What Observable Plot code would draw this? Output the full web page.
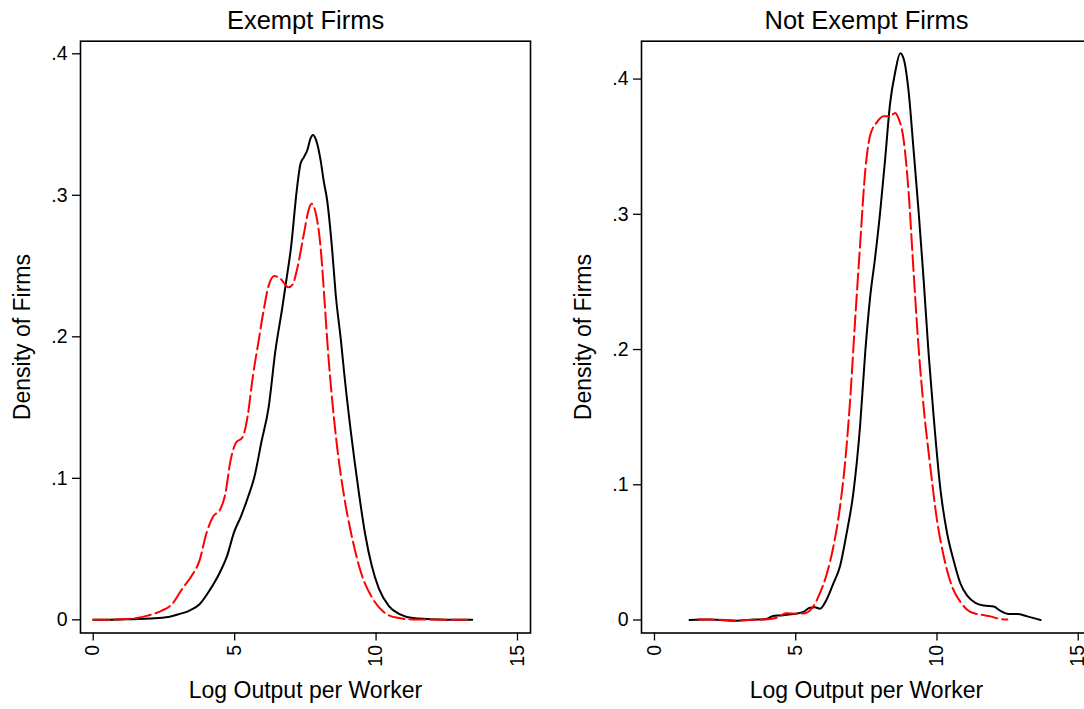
<!DOCTYPE html>
<html>
<head>
<meta charset="utf-8">
<script src="https://cdn.jsdelivr.net/npm/d3@7"></script>
<script src="https://cdn.jsdelivr.net/npm/@observablehq/plot@0.6"></script>
<style>
  html, body { margin: 0; padding: 0; background: #fff; width: 1084px; height: 709px; overflow: hidden; }
  #wrap { position: relative; width: 1084px; height: 709px; overflow: hidden; }
</style>
</head>
<body>
<div id="wrap"></div>
<script>
// ---- Data ----
const panelTitles = ["Exempt Firms", "Not Exempt Firms"];
const xLabel = "Log Output per Worker";
const yLabel = "Density of Firms";
const xTicks = [0, 5, 10, 15];
const yTicks = [0, 0.1, 0.2, 0.3, 0.4];

// Exempt firms: solid black curve [x, density]
const exemptSolid = [[0,0],[1,0.0003],[2,0.001],[2.66,0.002],[3.02,0.004],[3.39,0.0064],[3.76,0.011],[4.12,0.021],[4.49,0.034],[4.73,0.045],[4.98,0.062],[5.22,0.073],[5.46,0.086],[5.71,0.102],[5.95,0.126],[6.2,0.15],[6.44,0.19],[6.68,0.22],[6.85,0.243],[6.98,0.261],[7.21,0.306],[7.33,0.3225],[7.45,0.327],[7.57,0.332],[7.68,0.34],[7.77,0.3427],[7.88,0.339],[8.04,0.3247],[8.15,0.31],[8.27,0.2965],[8.45,0.261],[8.57,0.2306],[8.76,0.197],[8.88,0.173],[9.12,0.131],[9.37,0.093],[9.61,0.061],[9.85,0.038],[10.1,0.022],[10.46,0.0096],[10.83,0.004],[11.3,0.0013],[12.2,0.0003],[13.4,0]];
// Exempt firms: dashed red curve
const exemptDashed = [[0,0],[1,0.0004],[1.44,0.001],[1.93,0.003],[2.41,0.0064],[2.78,0.011],[3.15,0.022],[3.51,0.032],[3.76,0.042],[4.0,0.061],[4.24,0.073],[4.49,0.078],[4.67,0.089],[4.85,0.112],[5.04,0.125],[5.28,0.129],[5.46,0.144],[5.65,0.173],[5.83,0.195],[6.01,0.217],[6.2,0.236],[6.4,0.243],[6.62,0.241],[6.9,0.235],[7.05,0.237],[7.21,0.248],[7.45,0.273],[7.62,0.29],[7.72,0.294],[7.86,0.288],[8.04,0.263],[8.19,0.222],[8.3,0.19],[8.45,0.155],[8.63,0.121],[8.88,0.086],[9.12,0.061],[9.49,0.032],[9.85,0.016],[10.22,0.0064],[10.71,0.0016],[11.3,0.0003],[13.4,0]];

// Not exempt firms: solid black curve
const notExemptSolid = [[1.24,0],[2,0.0003],[2.9,-0.0005],[3.5,0.0003],[3.96,0.0008],[4.2,0.003],[4.44,0.0034],[4.91,0.0044],[5.27,0.006],[5.5,0.009],[5.68,0.0094],[5.86,0.0084],[6.09,0.015],[6.33,0.027],[6.57,0.04],[6.8,0.064],[7.04,0.094],[7.28,0.144],[7.46,0.198],[7.63,0.238],[7.81,0.268],[7.99,0.302],[8.17,0.342],[8.34,0.382],[8.52,0.405],[8.7,0.419],[8.82,0.415],[8.99,0.392],[9.17,0.348],[9.35,0.302],[9.53,0.251],[9.7,0.198],[9.88,0.151],[10.12,0.097],[10.36,0.064],[10.59,0.044],[10.83,0.027],[11.07,0.018],[11.36,0.0127],[11.66,0.0107],[12.01,0.01],[12.25,0.0067],[12.54,0.0044],[12.84,0.0044],[13.2,0.0027],[13.67,0]];
// Not exempt firms: dashed red curve
const notExemptDashed = [[1.54,0.0005],[2.2,0.0002],[3.0,-0.0004],[3.6,0.0002],[4.0,0.0005],[4.32,0.0017],[4.67,0.005],[5.03,0.0047],[5.33,0.005],[5.62,0.01],[5.86,0.02],[6.09,0.0335],[6.33,0.054],[6.57,0.084],[6.75,0.117],[6.92,0.161],[7.1,0.221],[7.28,0.278],[7.46,0.332],[7.63,0.358],[7.87,0.368],[8.1,0.3725],[8.34,0.3725],[8.52,0.375],[8.64,0.371],[8.82,0.355],[8.99,0.318],[9.17,0.258],[9.35,0.201],[9.53,0.157],[9.76,0.114],[10.0,0.074],[10.24,0.047],[10.53,0.025],[10.83,0.0134],[11.18,0.006],[11.54,0.004],[11.89,0.0027],[12.25,0.0007],[12.49,0.0003]];

// ---- Drawing ----
const FONT = "'Liberation Sans', Arial, Helvetica, sans-serif";
const yFmt = d => d === 0 ? "0" : d3.format(".1f")(d).replace(/^0/, "");

function panel(title, solid, dashed, xDomain, yDomain) {
  return Plot.plot({
    width: 560,
    height: 709,
    marginLeft: 80,
    marginRight: 30,
    marginTop: 40.7,
    marginBottom: 76.5,
    style: { fontFamily: FONT, background: "transparent", color: "#000", overflow: "visible" },
    x: { domain: xDomain },
    y: { domain: yDomain },
    marks: [
      Plot.frame({ stroke: "#000", strokeWidth: 1.6 }),
      Plot.axisX({ ticks: xTicks, tickRotate: -90, tickSize: 8, tickPadding: 4, fontSize: 19.5, label: null, strokeWidth: 1.3 }),
      Plot.axisY({ ticks: yTicks, tickFormat: yFmt, tickSize: 8, tickPadding: 5, fontSize: 19.5, label: null, strokeWidth: 1.3 }),
      Plot.line(solid, { x: d => d[0], y: d => d[1], stroke: "#000", strokeWidth: 2, curve: "monotone-x" }),
      Plot.line(dashed, { x: d => d[0], y: d => d[1], stroke: "#ff0000", strokeWidth: 2, strokeDasharray: "16 5", curve: "monotone-x" }),
      Plot.text([title], { frameAnchor: "top", textAnchor: "middle", dy: -12, lineAnchor: "bottom", fontSize: 25.5, fill: "#000" }),
      Plot.text([xLabel], { frameAnchor: "bottom", textAnchor: "middle", dy: 64.5, lineAnchor: "bottom", fontSize: 23, fill: "#000" }),
      Plot.text([yLabel], { frameAnchor: "left", textAnchor: "middle", dx: -51, rotate: -90, lineAnchor: "bottom", fontSize: 23, fill: "#000" })
    ]
  });
}

const wrap = document.getElementById("wrap");
const left = panel(panelTitles[0], exemptSolid, exemptDashed, [-0.45, 15.46], [-0.0093, 0.4089]);
left.style.position = "absolute";
left.style.left = "0px";
left.style.top = "0px";
wrap.appendChild(left);
const right = panel(panelTitles[1], notExemptSolid, notExemptDashed, [-0.46, 15.47], [-0.0096, 0.428]);
right.style.position = "absolute";
right.style.left = "561.3px";
right.style.top = "0px";
wrap.appendChild(right);
</script>
</body>
</html>
